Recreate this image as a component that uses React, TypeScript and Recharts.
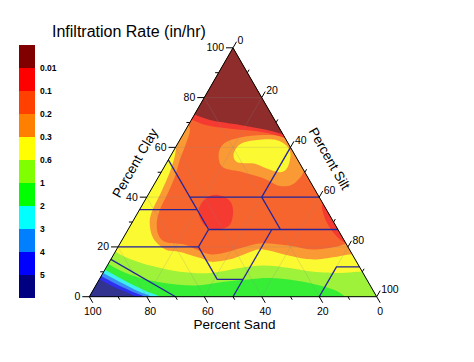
import { Bar, BarChart, Scatter, ScatterChart, XAxis, YAxis } from "recharts";

const W = 474;
const H = 362;
const SQ = Math.sqrt(3) / 2;
const FONT = "'Liberation Sans', Arial, sans-serif";

// where the ternary frame sits on the page (px)
const FRAME_LEFT = 89.3;
const FRAME_BASE = 296.7;
const UNIT = 2.874;
const X_DOMAIN = [-FRAME_LEFT / UNIT, (W - FRAME_LEFT) / UNIT];
const Y_DOMAIN = [-(H - FRAME_BASE) / UNIT, FRAME_BASE / UNIT];

type Pt = number[]; // [sand, clay]

const majorTicks = [0, 20, 40, 60, 80, 100];
const minorTicks = [10, 30, 50, 70, 90];
const gridValues = [20, 40, 60, 80];

// colour scale, top to bottom
const legendLabels = ["0.01", "0.1", "0.2", "0.3", "0.6", "1", "2", "3", "4", "5"];
const legendColors = ["#800000", "#ff0000", "#ff4000", "#ff8000", "#ffff00", "#80ff00", "#00ff00", "#00ffff", "#0080ff", "#0000ff", "#000080"];
const fillColors = ["#8f2d2d", "#f53a32", "#f7652f", "#f99a35", "#fbf932", "#9ef23a", "#36ee36", "#3cf0f0", "#3a8cf5", "#2f2ff0", "#32328f"];

// contour boundaries, [sand, clay]
const darkRedFloor: Pt[] = [[28, 74], [22.5, 71], [13, 69], [3, 66.5], [-3.5, 63.5]];
const redFloor: Pt[] = [[30, 72], [25, 69], [17, 67.5], [8.5, 66.5], [1.5, 64.5], [-4, 61]];
const redOrangeFloor: Pt[] = [[31, 70.5], [31.5, 67], [36, 61], [41, 55], [45.5, 49], [51.5, 42], [57.5, 35.5], [61.5, 30], [63.5, 25], [62.5, 22], [56.5, 21], [52.5, 18.5], [49, 17], [43, 18], [36, 20], [29, 21.5], [20, 20.5], [13, 19], [4.5, 20], [1, 21], [-4, 22]];
const orangeFloor: Pt[] = [[38, 63], [42, 56.5], [47, 50], [54, 42], [60, 35.5], [64, 30], [66, 23.5], [64, 19], [59.5, 18], [53.5, 15.5], [50.5, 14], [43.5, 15], [35, 18], [30, 19], [22, 16.5], [15, 15], [6.5, 16], [1, 17], [-4.5, 17]];
const yellowFloor: Pt[] = [[82.5, 19], [79.5, 16], [72.5, 12.5], [63.5, 10], [53, 9.5], [42, 11.5], [33, 12.5], [24.5, 11.5], [17, 10], [8, 9.5], [1.5, 10], [-3, 10]];
const limeFloor: Pt[] = [[87.5, 14], [84, 10.5], [78.5, 7.5], [71, 5.5], [61, 4.5], [50, 6], [40.5, 7], [33.5, 7.5], [25, 6.5], [17.5, 4.5], [13, 2.5], [11, 0], [10, -3]];

const cyanCorner: Pt[] = [[91, 12.5], [84.5, 6.5], [79.5, 2.5], [75.5, 0], [76, -3]];
const skyCorner: Pt[] = [[92, 11], [86.5, 6], [82, 2.3], [78.5, 0], [79, -3]];
const blueCorner: Pt[] = [[93, 9.5], [88, 5], [84, 2], [81, 0], [81.5, -3]];
const navyCorner: Pt[] = [[94, 8], [90, 4.3], [86.5, 2], [84, 0], [84.5, -3]];

const haloBlob: Pt[] = [[26.5, 57], [22.5, 61.5], [15.5, 64], [7, 65], [0, 64.5], [-5, 63], [-1, 52], [6, 45.5], [11.5, 44.5], [15.5, 47.5], [21.5, 50], [27.5, 52]];
const yellowBlob: Pt[] = [[21, 57.5], [16.5, 61.5], [10, 63], [3.5, 63], [1, 60.5], [1.5, 57], [5, 52], [8.5, 50], [12.5, 51.5], [16, 53.5], [21.5, 54]];
const redBlob: Pt[] = [[45, 34], [40.5, 39], [35.5, 41], [32, 39], [32.5, 35], [36.5, 29], [42, 27], [45.5, 28.5]];
const redStrip: Pt[] = [[-3, 39], [0.5, 37], [2, 33], [2.5, 29], [2, 25], [0.5, 22], [-3, 21]];

// USDA texture class boundaries
const textureLines: Pt[][] = [
  [[45, 55], [45, 27]],
  [[45, 40], [0, 40]],
  [[65, 35], [45, 35]],
  [[45, 27], [0, 27]],
  [[20, 40], [20, 27]],
  [[20, 40], [0, 60]],
  [[80, 20], [52, 20], [45, 27]],
  [[52, 20], [52, 7], [43, 7]],
  [[50, 0], [23, 27]],
  [[20, 0], [8, 12], [0, 12]],
  [[85, 15], [70, 0]],
];

const frameCorners: Pt[] = [[100, 0], [0, 100], [0, 0]];
const APEX_OUT: Pt = [-10, 115];
const SILT_OUT: Pt = [-10, -10];
const SAND_OUT: Pt = [115, -10];

const tern = ([sand, clay]: Pt) => ({ x: 100 - sand - clay / 2, y: clay * SQ });

const layers = [
  { edge: limeFloor, close: [SILT_OUT, APEX_OUT], color: fillColors[5] },
  { edge: yellowFloor, close: [APEX_OUT], color: fillColors[4] },
  { edge: orangeFloor, close: [APEX_OUT], color: fillColors[3] },
  { edge: redOrangeFloor, close: [APEX_OUT], color: fillColors[2] },
  { edge: haloBlob, close: null, color: fillColors[3] },
  { edge: yellowBlob, close: null, color: fillColors[4] },
  { edge: redBlob, close: null, color: fillColors[1] },
  { edge: redStrip, close: null, color: fillColors[1] },
  { edge: redFloor, close: [APEX_OUT], color: fillColors[1] },
  { edge: darkRedFloor, close: [APEX_OUT], color: fillColors[0] },
  { edge: cyanCorner, close: [SAND_OUT], color: fillColors[7] },
  { edge: skyCorner, close: [SAND_OUT], color: fillColors[8] },
  { edge: blueCorner, close: [SAND_OUT], color: fillColors[9] },
  { edge: navyCorner, close: [SAND_OUT], color: fillColors[10] },
];

const gridLines: Pt[][] = gridValues.flatMap((v) => [
  [[100 - v, v], [0, v]],
  [[v, 0], [v, 100 - v]],
  [[100 - v, 0], [0, 100 - v]],
]);

type XY = { x: number; y: number };

function catmull(p: XY[], closed: boolean) {
  const n = p.length;
  const at = (i: number) => (closed ? p[(i + n) % n] : p[Math.max(0, Math.min(n - 1, i))]);
  let d = `M${p[0].x},${p[0].y}`;
  const segs = closed ? n : n - 1;
  for (let i = 0; i < segs; i++) {
    const p0 = at(i - 1), p1 = at(i), p2 = at(i + 1), p3 = at(i + 2);
    d += `C${p1.x + (p2.x - p0.x) / 6},${p1.y + (p2.y - p0.y) / 6} ${p2.x - (p3.x - p1.x) / 6},${p2.y - (p3.y - p1.y) / 6} ${p2.x},${p2.y}`;
  }
  return d;
}

const polyD = (pts: XY[]) => pts.map((q, i) => `${i ? "L" : "M"}${q.x},${q.y}`).join("");

const noDot = () => <g />;

const regionLine = (n: number, closed: boolean, color: string) => (props: any) => {
  const pts: XY[] = props.points;
  let d = catmull(closed ? pts : pts.slice(0, n), closed);
  if (!closed) d += pts.slice(n).map((q) => `L${q.x},${q.y}`).join("");
  return <path d={d + "Z"} fill={color} stroke="none" clipPath="url(#tri-clip)" />;
};

const strokeLine = (color: string, width: number, opacity = 1) => (props: any) => (
  <path d={polyD(props.points)} fill="none" stroke={color} strokeWidth={width} strokeOpacity={opacity} />
);

const tickData = (at: (v: number) => Pt) => [
  ...majorTicks.map((v) => ({ ...tern(at(v)), v, major: true })),
  ...minorTicks.map((v) => ({ ...tern(at(v)), v, major: false })),
];

const tickShape = (dx: number, dy: number, place: (x: number, y: number, t: string) => any) => (props: any) => {
  const { cx, cy, payload } = props;
  const len = payload.major ? 7 : 3.5;
  const ex = cx + dx * len;
  const ey = cy + dy * len;
  return (
    <g>
      <line x1={cx} y1={cy} x2={ex} y2={ey} stroke="#000" strokeWidth={1} />
      {payload.major && place(ex, ey, String(payload.v))}
    </g>
  );
};

const tickText = { fontSize: 10.5, fontFamily: FONT, fill: "#000" };

const titleShape = (dx: number, dy: number, angle: number, text: string) => (props: any) => {
  const x = props.cx + dx;
  const y = props.cy + dy;
  return (
    <text x={x} y={y} dy={angle ? "0.35em" : 0} textAnchor="middle" transform={`rotate(${angle}, ${x}, ${y})`} fontSize={13.5} fontFamily={FONT} fill="#000">
      {text}
    </text>
  );
};

export default function App() {
  const legendRow = [Object.fromEntries(legendColors.map((_, i) => [`c${i}`, 1]))];
  return (
    <div style={{ position: "absolute", left: 0, top: 0, width: W, height: H, background: "#fff" }}>
      <svg width={W} height={50} style={{ position: "absolute", left: 0, top: 0 }}>
        <text x={52} y={37} fontSize={16} fontFamily={FONT} fill="#000">
          Infiltration Rate (in/hr)
        </text>
      </svg>
      <div style={{ position: "absolute", left: 0, top: 0 }}>
        <BarChart width={80} height={H} data={legendRow} margin={{ top: 45, right: 5, bottom: 64, left: 19 }} barCategoryGap={0} barGap={0}>
          <XAxis hide />
          <YAxis
            type="number"
            domain={[0, legendColors.length]}
            ticks={legendLabels.map((_, i) => legendLabels.length - i)}
            orientation="right"
            width={40}
            axisLine={false}
            tickLine={false}
            tickSize={0}
            tickMargin={5}
            interval={0}
            tick={({ x, y, payload }: any) => (
              <text x={x} y={y} dy="0.35em" fontSize={8.5} fontWeight="bold" fontFamily={FONT} fill="#000">
                {legendLabels[legendLabels.length - payload.value]}
              </text>
            )}
          />
          {legendColors.map((_, i) => {
            const k = legendColors.length - 1 - i;
            return <Bar key={k} dataKey={`c${k}`} stackId="s" fill={legendColors[k]} isAnimationActive={false} />;
          })}
        </BarChart>
      </div>
      <div style={{ position: "absolute", left: 0, top: 0 }}>
        <ScatterChart width={W} height={H} margin={{ top: 0, right: 0, bottom: 0, left: 0 }}>
          <XAxis type="number" dataKey="x" domain={X_DOMAIN} allowDataOverflow hide />
          <YAxis type="number" dataKey="y" domain={Y_DOMAIN} allowDataOverflow hide />
          <Scatter
            data={frameCorners.map(tern)}
            shape={noDot}
            isAnimationActive={false}
            line={(p: any) => (
              <g>
                <defs>
                  <clipPath id="tri-clip">
                    <path d={polyD(p.points) + "Z"} />
                  </clipPath>
                </defs>
                <path d={polyD(p.points) + "Z"} fill={fillColors[6]} />
              </g>
            )}
          />
          {layers.map((l, i) => (
            <Scatter
              key={`layer-${i}`}
              data={[...l.edge, ...(l.close || [])].map(tern)}
              shape={noDot}
              isAnimationActive={false}
              line={regionLine(l.edge.length, !l.close, l.color)}
            />
          ))}
          {gridLines.map((g, i) => (
            <Scatter key={`grid-${i}`} data={g.map(tern)} shape={noDot} isAnimationActive={false} line={strokeLine("#888", 0.6, 0.35)} />
          ))}
          {textureLines.map((g, i) => (
            <Scatter key={`tex-${i}`} data={g.map(tern)} shape={noDot} isAnimationActive={false} line={strokeLine("#25259a", 1.3)} />
          ))}
          <Scatter
            data={[...frameCorners, frameCorners[0]].map(tern)}
            shape={noDot}
            isAnimationActive={false}
            line={strokeLine("#000", 1)}
          />
          <Scatter
            data={tickData((v) => [100 - v, v])}
            isAnimationActive={false}
            shape={tickShape(-1, 0, (x, y, t) => (
              <text x={x - 2} y={y} dy="0.33em" textAnchor="end" {...tickText}>{t}</text>
            ))}
          />
          <Scatter
            data={tickData((v) => [0, 100 - v])}
            isAnimationActive={false}
            shape={tickShape(0.5, -SQ, (x, y, t) => (
              <text x={x + 1} y={y - 1} dy="0.35em" textAnchor="start" {...tickText}>{t}</text>
            ))}
          />
          <Scatter
            data={tickData((v) => [v, 0])}
            isAnimationActive={false}
            shape={tickShape(0.5, SQ, (x, y, t) => (
              <text x={x} y={y + 12.5} textAnchor="middle" {...tickText}>{t}</text>
            ))}
          />
          <Scatter data={[tern([50, 50])]} isAnimationActive={false} shape={titleShape(-26.2, -9.3, -60, "Percent Clay")} />
          <Scatter data={[tern([0, 50])]} isAnimationActive={false} shape={titleShape(24.7, -13.8, 60, "Percent Silt")} />
          <Scatter data={[tern([50, 0])]} isAnimationActive={false} shape={titleShape(1.5, 32.3, 0, "Percent Sand")} />
        </ScatterChart>
      </div>
    </div>
  );
}
